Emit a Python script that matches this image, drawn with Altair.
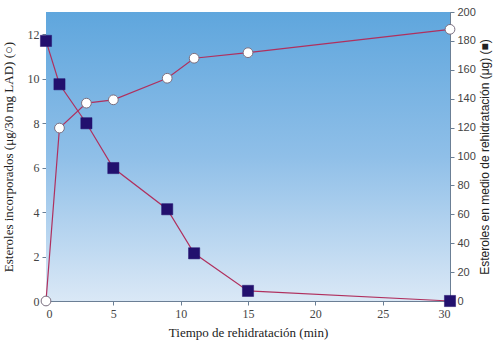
import altair as alt
import pandas as pd

# Data
tiempo_c = [0, 1, 3, 5, 9, 11, 15, 30]
incorporados = [0.0, 7.78, 8.9, 9.05, 10.02, 10.92, 11.17, 12.22]

tiempo_s = [0, 1, 3, 5, 9, 11, 15, 30]
medio = [180, 150, 123, 92, 63.5, 33, 7, 0]

x_ticks = [0, 5, 10, 15, 20, 25, 30]
left_ticks = [0, 2, 4, 6, 8, 10, 12]
right_ticks = list(range(0, 201, 20))

dc = pd.DataFrame({"t": tiempo_c, "v": incorporados})
ds = pd.DataFrame({"t": tiempo_s, "v": medio})

W, H = 404, 289
LINE = "#b0305e"
SERIF = "Liberation Serif"
SANS = "Liberation Sans"
AX = "#6b7f95"

xaxis = alt.Axis(values=x_ticks, title="Tiempo de rehidratación (min)",
                 grid=False, tickSize=4, labelFont=SERIF, titleFont=SERIF,
                 labelFontSize=12, titleFontSize=13, labelColor="#444",
                 titleColor="#222", titleFontWeight="normal", labelPadding=3,
                 titlePadding=7, domainColor=AX, tickColor=AX)
xenc = alt.X("t:Q", scale=alt.Scale(domain=[0, 30], nice=False, zero=False), axis=xaxis)

yleft_scale = alt.Scale(domain=[0, 13], nice=False)
yright_scale = alt.Scale(domain=[0, 200], nice=False)

yleft = alt.Y("v:Q", scale=yleft_scale,
              axis=alt.Axis(values=left_ticks, orient="left",
                            title="Esteroles incorporados (μg/30 mg LAD) (○)",
                            grid=False, tickSize=4, labelFont=SERIF, titleFont=SERIF,
                            labelFontSize=12, titleFontSize=13, labelColor="#444",
                            titleColor="#222", titleFontWeight="normal", labelPadding=3,
                            titlePadding=12, domainColor=AX, tickColor=AX))
yright = alt.Y("v:Q", scale=yright_scale,
               axis=alt.Axis(values=right_ticks, orient="right",
                             title="Esteroles en medio de rehidratación (μg) (■)",
                             grid=False, tickSize=4, labelFont=SANS, titleFont=SANS,
                             labelFontSize=11, titleFontSize=12, labelColor="#444",
                             titleColor="#222", titleFontWeight="normal", labelPadding=3,
                             titlePadding=16, titleAngle=270, domainColor=AX,
                             tickColor=AX))
yleft_noax = alt.Y("v:Q", scale=yleft_scale, axis=None)
yright_noax = alt.Y("v:Q", scale=yright_scale, axis=None)

bg = alt.Chart(pd.DataFrame({"a": [0]})).mark_rect(
    color=alt.LinearGradient(
        gradient="linear", x1=0, y1=0, x2=0, y2=1,
        stops=[alt.GradientStop(color="#5fa6dd", offset=0),
               alt.GradientStop(color="#8fbfe8", offset=0.5),
               alt.GradientStop(color="#dae8f6", offset=1)])
).encode(x=alt.value(0), x2=alt.value(W), y=alt.value(0), y2=alt.value(H))

line_c = alt.Chart(dc).mark_line(color=LINE, strokeWidth=1.2).encode(x=xenc, y=yleft)
line_s = alt.Chart(ds).mark_line(color=LINE, strokeWidth=1.2).encode(x=xenc, y=yright)
pts_c = alt.Chart(dc).mark_point(shape="circle", filled=True, fill="white", stroke="#7a6f80",
                                 strokeWidth=1, size=95, opacity=1).encode(x=xenc, y=yleft_noax)
pts_s = alt.Chart(ds).mark_point(shape="square", filled=True, fill="#22106e", stroke="#22106e",
                                 strokeWidth=0.5, size=125, opacity=1).encode(x=xenc, y=yright_noax)

chart = alt.layer(bg, line_c, line_s, pts_c, pts_s).resolve_scale(y="independent").properties(
    width=W, height=H,
    autosize=alt.AutoSizeParams(type="none"),
    padding={"left": 46, "top": 12, "right": 50, "bottom": 44},
    background="white",
).configure_view(stroke=AX, strokeWidth=1)

chart.save("out.html", embed_options={"renderer": "svg", "actions": False})
